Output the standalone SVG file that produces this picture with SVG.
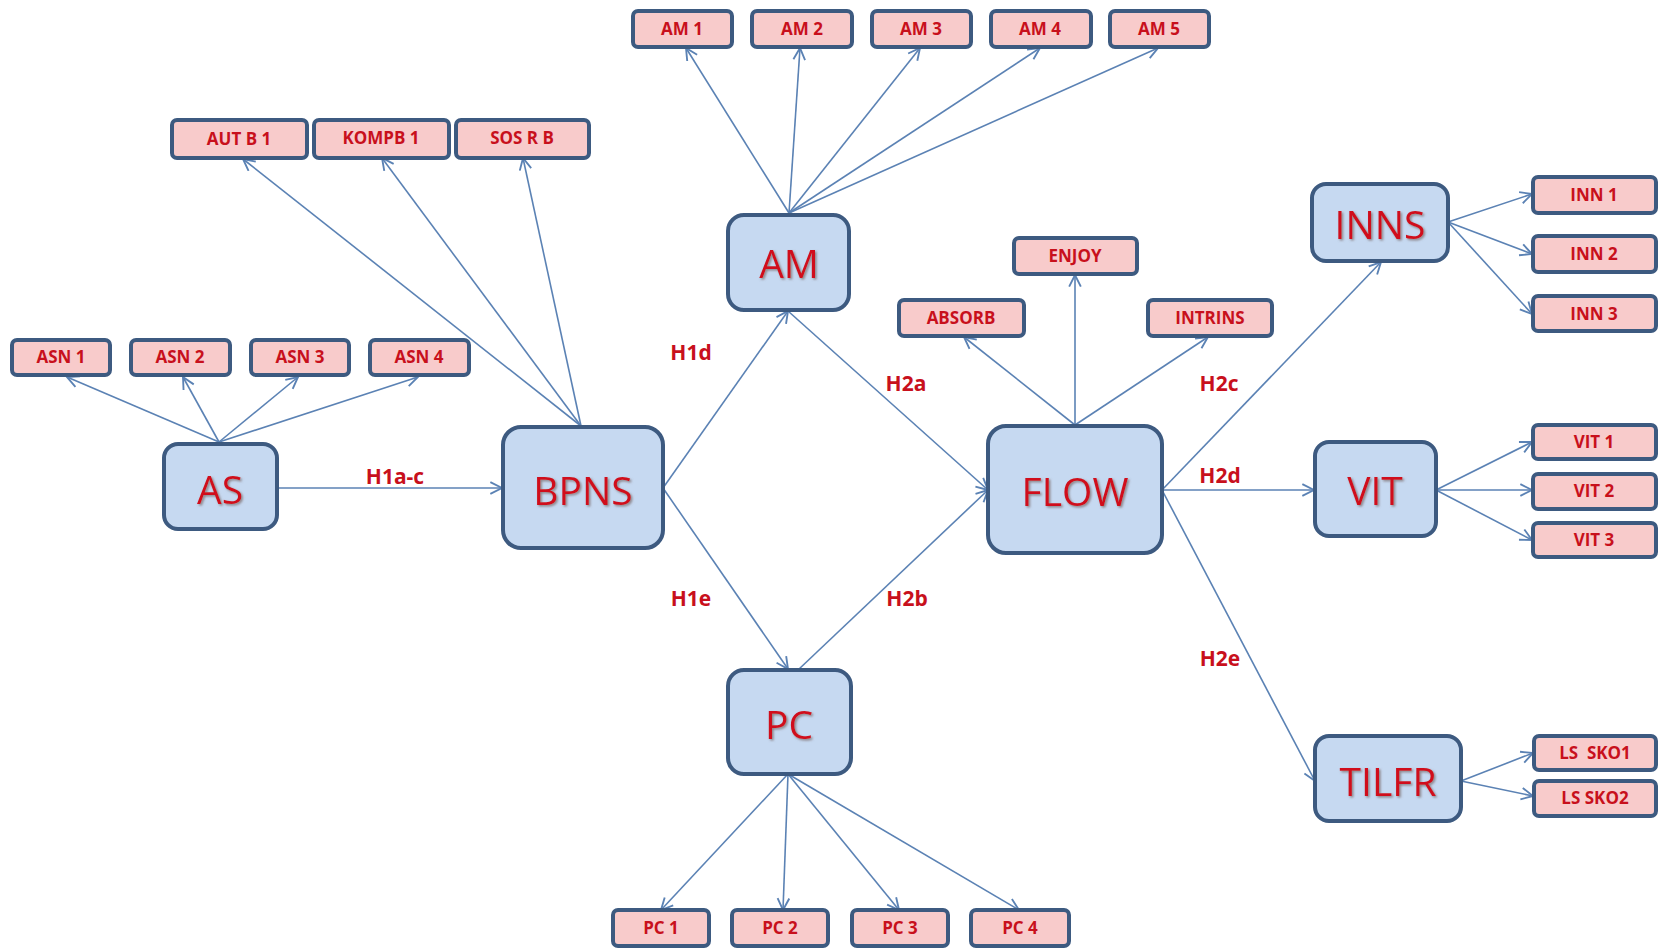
<svg xmlns="http://www.w3.org/2000/svg" width="1659" height="949" viewBox="0 0 1659 949">
<style>
.big rect{fill:#c6d9f1;stroke:#3d5a80;stroke-width:4}
.big text{font-family:"Open Sans","Liberation Sans",sans-serif;font-size:39px;fill:#d0101c;text-anchor:middle;dominant-baseline:central;filter:url(#sh)}
.sm rect{fill:#f8cbcb;stroke:#3d5a80;stroke-width:4}
.sm text{font-family:"Open Sans","Liberation Sans",sans-serif;font-size:17px;font-weight:bold;fill:#c8101c;text-anchor:middle;dominant-baseline:central;white-space:pre}
.lbl{font-family:"Open Sans","Liberation Sans",sans-serif;font-size:21px;font-weight:bold;fill:#c8101c;text-anchor:middle;dominant-baseline:central}
#edges line{stroke:#5b82b4;stroke-width:1.6;marker-end:url(#ar)}
</style>
<defs>
<marker id="ar" markerUnits="userSpaceOnUse" markerWidth="14" markerHeight="14" refX="11" refY="6" orient="auto" viewBox="0 0 12 12">
<path d="M1,1 L11,6 L1,11" fill="none" stroke="#5b82b4" stroke-width="1.6"/>
</marker>
<filter id="sh" x="-20%" y="-20%" width="140%" height="140%">
<feDropShadow dx="1.5" dy="1.5" stdDeviation="1" flood-color="#7a6a6a" flood-opacity="0.8"/>
</filter>
</defs>
<rect width="1659" height="949" fill="#ffffff"/>
<g id="edges">
<line x1="219" y1="442" x2="67" y2="377"/>
<line x1="219" y1="442" x2="183" y2="377"/>
<line x1="219" y1="442" x2="298" y2="377"/>
<line x1="219" y1="442" x2="418" y2="377"/>
<line x1="277" y1="488" x2="502" y2="488"/>
<line x1="581" y1="426" x2="243" y2="159"/>
<line x1="581" y1="426" x2="382" y2="158"/>
<line x1="581" y1="426" x2="523" y2="158"/>
<line x1="663" y1="488" x2="788" y2="311"/>
<line x1="663" y1="488" x2="788" y2="669"/>
<line x1="788" y1="311" x2="988" y2="490"/>
<line x1="798" y1="670" x2="988" y2="490"/>
<line x1="789" y1="213" x2="686" y2="48"/>
<line x1="789" y1="213" x2="800" y2="48"/>
<line x1="789" y1="213" x2="920" y2="48"/>
<line x1="789" y1="213" x2="1040" y2="48"/>
<line x1="789" y1="213" x2="1158" y2="48"/>
<line x1="1075" y1="425" x2="964" y2="337"/>
<line x1="1075" y1="425" x2="1075" y2="275"/>
<line x1="1075" y1="425" x2="1208" y2="337"/>
<line x1="1162" y1="490" x2="1381" y2="262"/>
<line x1="1162" y1="490" x2="1314" y2="490"/>
<line x1="1162" y1="490" x2="1315" y2="781"/>
<line x1="1448" y1="222" x2="1532" y2="194"/>
<line x1="1448" y1="222" x2="1532" y2="254"/>
<line x1="1448" y1="222" x2="1532" y2="314"/>
<line x1="1436" y1="490" x2="1532" y2="442"/>
<line x1="1436" y1="490" x2="1532" y2="490"/>
<line x1="1436" y1="490" x2="1532" y2="540"/>
<line x1="1461" y1="781" x2="1533" y2="753"/>
<line x1="1461" y1="781" x2="1533" y2="796"/>
<line x1="788" y1="774" x2="661" y2="910"/>
<line x1="788" y1="774" x2="783" y2="910"/>
<line x1="788" y1="774" x2="899" y2="910"/>
<line x1="788" y1="774" x2="1019" y2="910"/>
</g>
<g id="labels">
<text class="lbl" x="395" y="476">H1a-c</text>
<text class="lbl" x="691" y="352">H1d</text>
<text class="lbl" x="691" y="598">H1e</text>
<text class="lbl" x="906" y="383">H2a</text>
<text class="lbl" x="907" y="598">H2b</text>
<text class="lbl" x="1219" y="383">H2c</text>
<text class="lbl" x="1220" y="475">H2d</text>
<text class="lbl" x="1220" y="658">H2e</text>
</g>
<g id="AS" class="big"><rect x="164" y="444" width="113" height="85" rx="14"/><text x="220" y="488">AS</text></g>
<g id="BPNS" class="big"><rect x="503" y="427" width="160" height="121" rx="18"/><text x="583" y="489">BPNS</text></g>
<g id="AM" class="big"><rect x="728" y="215" width="121" height="95" rx="16"/><text x="789" y="262">AM</text></g>
<g id="FLOW" class="big"><rect x="988" y="426" width="174" height="127" rx="18"/><text x="1075" y="490">FLOW</text></g>
<g id="PC" class="big"><rect x="728" y="670" width="123" height="104" rx="16"/><text x="789" y="723">PC</text></g>
<g id="INNS" class="big"><rect x="1312" y="184" width="136" height="77" rx="14"/><text x="1380" y="223">INNS</text></g>
<g id="VIT" class="big"><rect x="1315" y="442" width="121" height="94" rx="14"/><text x="1375" y="489">VIT</text></g>
<g id="TILFR" class="big"><rect x="1315" y="736" width="146" height="85" rx="14"/><text x="1388" y="780">TILFR</text></g>
<g id="ASN1" class="sm"><rect x="12" y="340" width="98" height="35" rx="5"/><text x="61" y="356">ASN 1</text></g>
<g id="ASN2" class="sm"><rect x="131" y="340" width="99" height="35" rx="5"/><text x="180" y="356">ASN 2</text></g>
<g id="ASN3" class="sm"><rect x="251" y="340" width="98" height="35" rx="5"/><text x="300" y="356">ASN 3</text></g>
<g id="ASN4" class="sm"><rect x="370" y="340" width="99" height="35" rx="5"/><text x="419" y="356">ASN 4</text></g>
<g id="AUTB1" class="sm"><rect x="172" y="120" width="135" height="38" rx="5"/><text x="239" y="138">AUT B 1</text></g>
<g id="KOMPB1" class="sm"><rect x="314" y="120" width="135" height="38" rx="5"/><text x="381" y="137">KOMPB 1</text></g>
<g id="SOSRB" class="sm"><rect x="456" y="120" width="133" height="38" rx="5"/><text x="522" y="137">SOS R B</text></g>
<g id="AM1" class="sm"><rect x="633" y="11" width="99" height="36" rx="5"/><text x="682" y="28">AM 1</text></g>
<g id="AM2" class="sm"><rect x="752" y="11" width="100" height="36" rx="5"/><text x="802" y="28">AM 2</text></g>
<g id="AM3" class="sm"><rect x="872" y="11" width="99" height="36" rx="5"/><text x="921" y="28">AM 3</text></g>
<g id="AM4" class="sm"><rect x="991" y="11" width="100" height="36" rx="5"/><text x="1040" y="28">AM 4</text></g>
<g id="AM5" class="sm"><rect x="1110" y="11" width="99" height="36" rx="5"/><text x="1159" y="28">AM 5</text></g>
<g id="ENJOY" class="sm"><rect x="1014" y="238" width="123" height="36" rx="5"/><text x="1075" y="255">ENJOY</text></g>
<g id="ABSORB" class="sm"><rect x="899" y="300" width="125" height="36" rx="5"/><text x="961" y="317">ABSORB</text></g>
<g id="INTRINS" class="sm"><rect x="1148" y="300" width="124" height="36" rx="5"/><text x="1210" y="317">INTRINS</text></g>
<g id="INN1" class="sm"><rect x="1533" y="177" width="123" height="36" rx="5"/><text x="1594" y="194">INN 1</text></g>
<g id="INN2" class="sm"><rect x="1533" y="236" width="123" height="36" rx="5"/><text x="1594" y="253">INN 2</text></g>
<g id="INN3" class="sm"><rect x="1533" y="296" width="123" height="35" rx="5"/><text x="1594" y="313">INN 3</text></g>
<g id="VIT1" class="sm"><rect x="1533" y="425" width="123" height="34" rx="5"/><text x="1594" y="441">VIT 1</text></g>
<g id="VIT2" class="sm"><rect x="1533" y="474" width="123" height="35" rx="5"/><text x="1594" y="490">VIT 2</text></g>
<g id="VIT3" class="sm"><rect x="1533" y="523" width="123" height="34" rx="5"/><text x="1594" y="539">VIT 3</text></g>
<g id="LSSKO1" class="sm"><rect x="1534" y="736" width="122" height="34" rx="5"/><text x="1595" y="752" xml:space="preserve">LS  SKO1</text></g>
<g id="LSSKO2" class="sm"><rect x="1534" y="781" width="122" height="35" rx="5"/><text x="1595" y="797">LS SKO2</text></g>
<g id="PC1" class="sm"><rect x="613" y="910" width="96" height="36" rx="5"/><text x="661" y="927">PC 1</text></g>
<g id="PC2" class="sm"><rect x="732" y="910" width="96" height="36" rx="5"/><text x="780" y="927">PC 2</text></g>
<g id="PC3" class="sm"><rect x="852" y="910" width="96" height="36" rx="5"/><text x="900" y="927">PC 3</text></g>
<g id="PC4" class="sm"><rect x="971" y="910" width="98" height="36" rx="5"/><text x="1020" y="927">PC 4</text></g>
</svg>
